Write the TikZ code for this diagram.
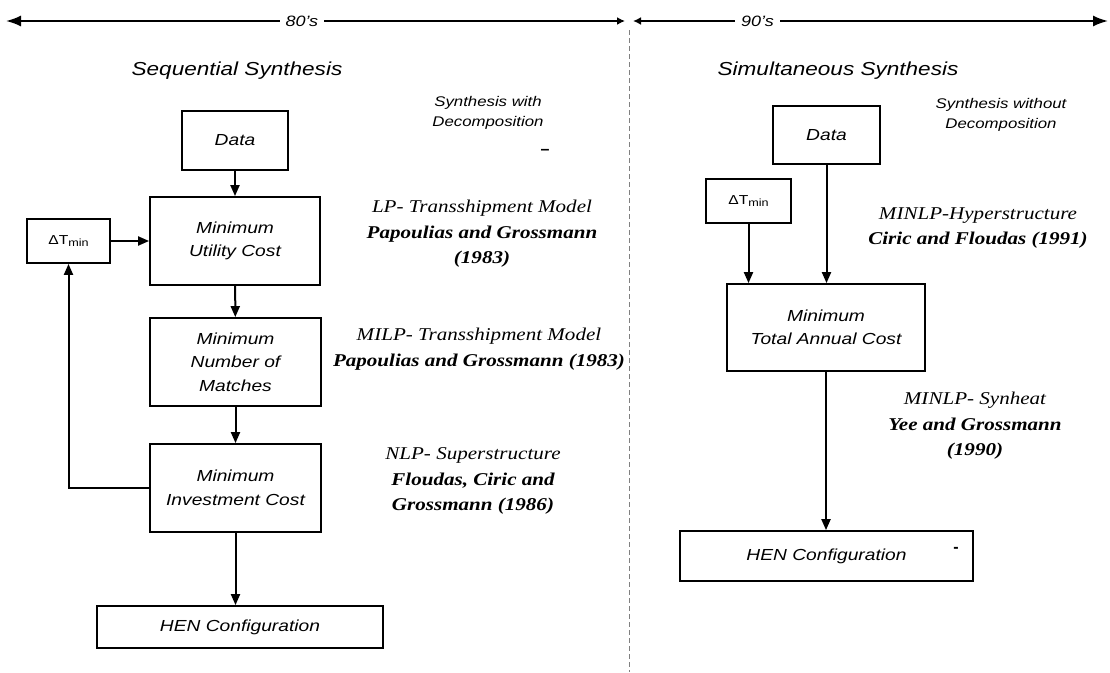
\documentclass[tikz,border=0pt]{standalone}
\usepackage{fontspec}
\setmainfont{Liberation Serif}
\setsansfont{Liberation Sans}
\usetikzlibrary{arrows.meta}
\newcommand{\sx}[1]{\scalebox{1.2}[1]{#1}}
\newcommand{\sxs}[1]{\scalebox{1.17}[1]{#1}}
\begin{document}
\begin{tikzpicture}[x=1pt,y=-1pt,
  box/.style={draw,line width=1.8pt,inner sep=0pt,align=center,font=\sffamily\itshape\fontsize{16}{23.5}\selectfont},
  dtbox/.style={draw,line width=1.8pt,inner sep=0pt,font=\sffamily\fontsize{13}{15}\selectfont},
  conn/.style={line width=2pt,-{Triangle[length=11pt,width=9pt]}},
  lbl/.style={align=center,font=\fontsize{18}{25.5}\selectfont},
  note/.style={align=center,font=\sffamily\itshape\fontsize{14}{20}\selectfont},
  title/.style={font=\sffamily\itshape\fontsize{18.8}{22}\selectfont},
  era/.style={fill=white,inner xsep=6pt,inner ysep=2pt,font=\sffamily\itshape\fontsize{15}{18}\selectfont},
  timeline/.style={line width=1.8pt},
  dashmark/.style={font=\sffamily\bfseries\fontsize{16}{16}\selectfont,inner sep=0pt}
]
\useasboundingbox (0,0) rectangle (1110,672);

% timeline
\coordinate (tlL) at (6,21);
\coordinate (tlML) at (625,21);
\coordinate (tlMR) at (633,21);
\coordinate (tlR) at (1108,21);
\draw[timeline,{Latex[length=15pt,width=11pt]}-{Latex[length=8pt,width=8pt]}] (tlL) -- node[era,pos=0.478]{\sx{80's}} (tlML);
\draw[timeline,{Latex[length=8pt,width=8pt]}-{Latex[length=15pt,width=11pt]}] (tlMR) -- node[era,pos=0.262]{\sx{90's}} (tlR);

% divider
\coordinate (divT) at (629,30);
\coordinate (divB) at (629,672);
\draw[gray,line width=1pt,dash pattern=on 5pt off 3pt] (divT) -- (divB);

% titles
\node[title] (t1) at (237,71) {\sx{Sequential Synthesis}};
\node[title] (t2) at (838,71) {\sx{Simultaneous Synthesis}};

% notes
\node[note] (n1) at (488,113) {\sx{Synthesis with}\\\sx{Decomposition}};
\node[note] (n2) at (1001,115) {\sx{Synthesis without}\\\sx{Decomposition}};
\node[dashmark] (d1) at (545,152) {–};
\node[dashmark] (d2) at (956,550) {-};

% left column
\node[box,minimum width=106pt,minimum height=59pt] (dataL) at (235,140.5) {\sx{Data}};
\node[box,minimum width=170pt,minimum height=88pt] (util) at (235,241) {\sx{Minimum}\\\sx{Utility Cost}};
\node[box,minimum width=171pt,minimum height=88pt] (match) at (235.5,362) {\sx{Minimum}\\\sx{Number of}\\\sx{Matches}};
\node[box,minimum width=171pt,minimum height=88pt] (invest) at (235.5,488) {\sx{Minimum}\\\sx{Investment Cost}};
\node[box,minimum width=286pt,minimum height=42pt] (henL) at (240,627) {\sx{HEN Configuration}};
\node[dtbox,minimum width=83pt,minimum height=44pt] (dtL) at (68.5,241) {\sx{ΔT\raisebox{-1.5pt}{\fontsize{10.5}{12}\selectfont min}}};

\draw[conn] (dataL) -- (util);
\draw[conn] (util) -- (match);
\draw[conn] (match) -- (invest);
\draw[conn] (invest.south) -- (invest.south |- henL.north);
\draw[conn] (dtL) -- (util);
\draw[conn] (invest.west) -| (dtL.south);

% left labels
\node[lbl] (lp) at (482,234) {\sxs{\itshape LP- Transshipment Model}\\\sxs{\bfseries\itshape Papoulias and Grossmann}\\\sxs{\bfseries\itshape (1983)}};
\node[lbl] (milp) at (479,349) {\sxs{\itshape MILP- Transshipment Model}\\\sxs{\bfseries\itshape Papoulias and Grossmann (1983)}};
\node[lbl] (nlp) at (473,481) {\sxs{\itshape NLP- Superstructure}\\\sxs{\bfseries\itshape Floudas, Ciric and}\\\sxs{\bfseries\itshape Grossmann (1986)}};

% right column
\node[box,minimum width=107pt,minimum height=58pt] (dataR) at (826.5,135) {\sx{Data}};
\node[dtbox,minimum width=85pt,minimum height=44pt] (dtR) at (748.5,201) {\sx{ΔT\raisebox{-1.5pt}{\fontsize{10.5}{12}\selectfont min}}};
\node[box,minimum width=198pt,minimum height=87pt] (total) at (826,327.5) {\sx{Minimum}\\\sx{Total Annual Cost}};
\node[box,minimum width=293pt,minimum height=50pt] (henR) at (826.5,556) {\sx{HEN Configuration}};

\draw[conn] (dataR.south) -- (dataR.south |- total.north);
\draw[conn] (dtR.south) -- (dtR.south |- total.north);
\draw[conn] (total.south) -- (total.south |- henR.north);

% right labels
\node[lbl] (minlp1) at (978,228) {\sxs{\itshape MINLP-Hyperstructure}\\\sxs{\bfseries\itshape Ciric and Floudas (1991)}};
\node[lbl] (minlp2) at (975,426) {\sxs{\itshape MINLP- Synheat}\\\sxs{\bfseries\itshape Yee and Grossmann}\\\sxs{\bfseries\itshape (1990)}};
\end{tikzpicture}
\end{document}
